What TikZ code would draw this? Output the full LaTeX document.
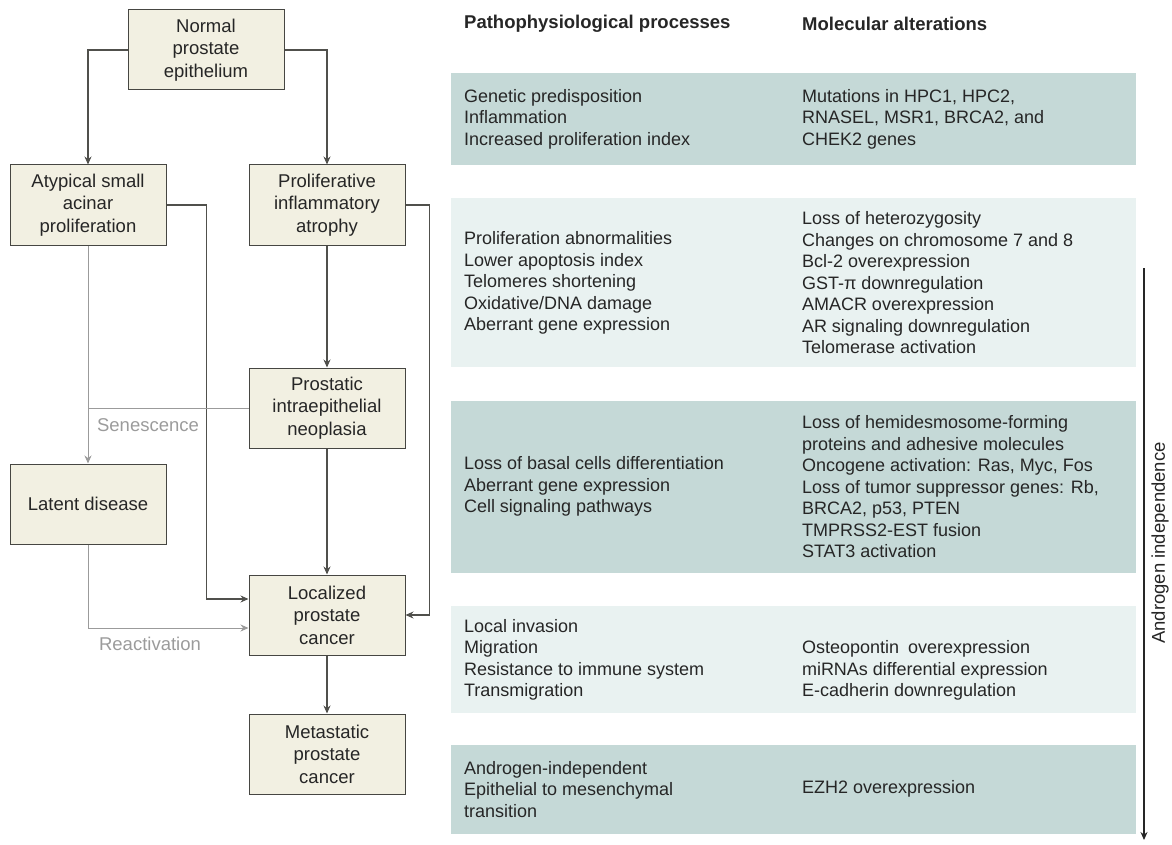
\documentclass[tikz,border=0pt]{standalone}
\usepackage{fontspec}
\setmainfont{Liberation Sans}
\usepackage{tikz}
\usetikzlibrary{positioning, arrows.meta}

\definecolor{boxfill}{RGB}{242,240,226}
\definecolor{boxline}{RGB}{70,70,66}
\definecolor{linedark}{RGB}{80,80,76}
\definecolor{linegray}{RGB}{155,155,155}
\definecolor{banddark}{RGB}{197,217,215}
\definecolor{bandlight}{RGB}{233,242,241}
\definecolor{txt}{RGB}{38,38,38}

\tikzset{
    stage/.style={draw=boxline, fill=boxfill, line width=1pt, minimum width=156pt, minimum height=80pt,
        inner sep=0pt, align=center, text=txt, font=\fontsize{18.5}{22.5}\selectfont},
    flow/.style={draw=linedark, line width=1.2pt, -{Stealth[length=8pt,width=7pt]}},
    faint/.style={draw=linegray, line width=1pt, -{Stealth[length=8pt,width=7pt]}},
    band/.style={minimum width=685pt, inner sep=0pt, draw=none},
    entry/.style={align=left, inner sep=0pt, text=txt, font=\fontsize{18}{21.5}\selectfont},
    faintlabel/.style={text=linegray, inner sep=0pt, font=\fontsize{18.5}{22}\selectfont}
}

\begin{document}
\begin{tikzpicture}[x=1pt, y=-1pt]
    \useasboundingbox (0,0) rectangle (1172,845);

    % flow chart
    \node [stage] (normal) at (206,50) {Normal\\prostate\\epithelium};
    \node [stage] (asap) at (88,205) {Atypical small\\acinar\\proliferation};
    \node [stage] (pia) at (327,205) {Proliferative\\inflammatory\\atrophy};
    \node [stage, below=122pt of pia] (pin) {Prostatic\\intraepithelial\\neoplasia};
    \node [stage, below=218pt of asap] (latent) {Latent disease};
    \node [stage, below=126pt of pin] (local) {Localized\\prostate\\cancer};
    \node [stage, below=58pt of local] (meta) {Metastatic\\prostate\\cancer};

    \node [faintlabel] (senes) at (148,425) {Senescence};
    \node [faintlabel] (react) at (150,644) {Reactivation};

    \draw [flow] (normal.west) -| (asap.north);
    \draw [flow] (normal.east) -| (pia.north);
    \draw [flow] (pia) -- (pin);
    \draw [flow] (pin) -- (local);
    \draw [flow] (local) -- (meta);
    \draw [flow] (asap.east) -- ++(40,0) |- ([yshift=16pt]local.west);
    \draw [flow] (pia.east) -- ++(24,0) |- (local.east);

    \draw [faint] (asap) -- (latent);
    \draw [faint, -] (pin.west) -- (asap.south |- pin.west);
    \draw [faint] (latent.south) |- ([yshift=-13pt]local.west);

    % table on the right
    \node [entry, anchor=west, font=\bfseries\fontsize{18.5}{22}\selectfont] (headp) at (464,24) {Pathophysiological processes};
    \node [entry, anchor=west, font=\bfseries\fontsize{18.5}{22}\selectfont] (headm) at (802,24) {Molecular alterations};

    \node [band, fill=banddark, minimum height=92pt] (b1) at (793.5,119) {};
    \node [band, fill=bandlight, minimum height=169pt, below=33pt of b1] (b2) {};
    \node [band, fill=banddark, minimum height=172pt, below=33pt of b2] (b3) {};
    \node [band, fill=bandlight, minimum height=107pt, below=33pt of b3] (b4) {};
    \node [band, fill=banddark, minimum height=89pt, below=31pt of b4] (b5) {};

    \node [entry, right=13pt of b1.west] (p1) {Genetic predisposition\\Inflammation\\Increased proliferation index};
    \node [entry, right=351pt of b1.west] (m1) {Mutations in HPC1, HPC2,\\RNASEL, MSR1, BRCA2, and\\CHEK2 genes};

    \node [entry, right=13pt of b2.west] (p2) {Proliferation abnormalities\\Lower apoptosis index\\Telomeres shortening\\Oxidative/DNA damage\\Aberrant gene expression};
    \node [entry, right=351pt of b2.west] (m2) {Loss of heterozygosity\\Changes on chromosome 7 and 8\\Bcl-2 overexpression\\GST-π downregulation\\AMACR overexpression\\AR signaling downregulation\\Telomerase activation};

    \node [entry, right=13pt of b3.west] (p3) {Loss of basal cells differentiation\\Aberrant gene expression\\Cell signaling pathways};
    \node [entry, right=351pt of b3.west] (m3) {Loss of hemidesmosome-forming\\proteins and adhesive molecules\\Oncogene activation: Ras, Myc, Fos\\Loss of tumor suppressor genes: Rb,\\BRCA2, p53, PTEN\\TMPRSS2-EST fusion\\STAT3 activation};

    \node [entry, right=13pt of b4.west] (p4) {Local invasion\\Migration\\Resistance to immune system\\Transmigration};
    \node [entry, right=351pt of {[yshift=-11pt]b4.west}] (m4) {Osteopontin\enspace overexpression\\miRNAs differential expression\\E-cadherin downregulation};

    \node [entry, right=13pt of b5.west] (p5) {Androgen-independent\\Epithelial to mesenchymal\\transition};
    \node [entry, right=351pt of b5.west] (m5) {EZH2 overexpression};

    % androgen independence
    \coordinate (atop) at (1144,268);
    \coordinate (abot) at (1144,840);
    \draw [draw=txt, line width=1.2pt, -{Stealth[length=8pt,width=7pt]}] (atop) -- (abot);
    \node [entry, rotate=90, font=\fontsize{18.5}{22}\selectfont] (andr) at (1160,543) {Androgen independence};
\end{tikzpicture}
\end{document}
